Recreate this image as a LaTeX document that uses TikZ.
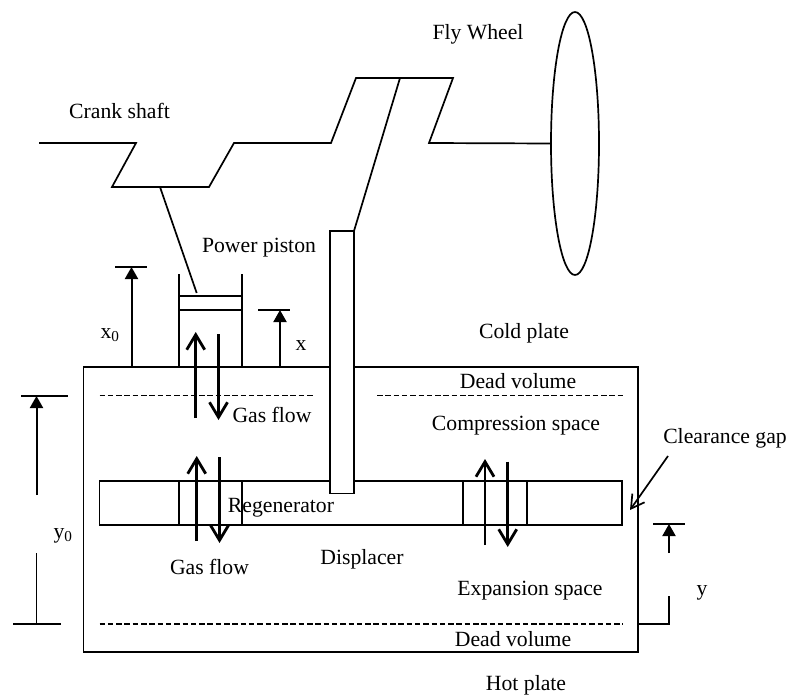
\documentclass[tikz,border=0pt]{standalone}
\usepackage{fontspec}
\setmainfont{Liberation Serif}
\usetikzlibrary{arrows.meta,shapes.geometric,positioning}

\begin{document}
\begin{tikzpicture}[x=1pt,y=-1pt,every node/.style={outer sep=0pt,inner sep=0pt},
    line width=1.7pt,line join=miter,
    part/.style={draw,fill=white,line width=1.7pt},
    lab/.style={anchor=base,font=\fontsize{21.7}{26}\selectfont},
    deadline/.style={line width=1.4pt,dash pattern=on 5.5pt off 2.8pt},
    flow/.style={line width=2.8pt,-{Straight Barb[length=15pt,width=18pt,line width=2.8pt]}},
    dimen/.style={line width=2pt,-{Triangle[length=12pt,width=13pt]}}]
   \useasboundingbox (0,0) rectangle (789,695);

   % engine body
   \node[part,minimum width=554.2pt,minimum height=285.3pt] (body) at (360.6,509.35) {};
   \draw[deadline] (99.5,395.7) -- (313,395.7);
   \draw[deadline] (377,395.7) -- (622.7,395.7);
   \draw[deadline] (99.5,624) -- (622.7,624);

   % displacer
   \node[part,minimum width=522.2pt,minimum height=43.4pt] (plate) at (360.6,503) {};
   \foreach \X in {178.7,242,463.3,526.7}
   {
    \draw (\X,0 |- plate.north) -- (\X,0 |- plate.south);
   }
   \node[part,minimum width=24pt,minimum height=262.5pt] (rod) at (342,362.25) {};

   % power piston
   \coordinate (cyl1) at (178.7,274);
   \coordinate (cyl2) at (242,274);
   \draw (cyl1) -- (cyl1|-body.north);
   \draw (cyl2) -- (cyl2|-body.north);
   \draw (178.7,295.7) -- (242,295.7) (178.7,310) -- (242,310);

   % crank and fly wheel
   \node[draw,ellipse,minimum width=48pt,minimum height=263pt] (wheel) at (575,143.5) {};
   \draw (39,143) -- (136,143) -- (112,187) -- (209,187) -- (234,143) -- (331,143)
    -- (356,78) -- (453,78) -- (429,143) -- (wheel.west);
   \coordinate (pin1) at (160,187);
   \coordinate (pin2) at (400,78);
   \draw (pin1) -- (196.7,293);
   \draw (pin2) -- (rod.north east);

   % gas flow arrows
   \foreach \X/\A/\B in {195.7/418/332,218.5/334/420,196.7/541/456,219.5/457/543,
    485/545/459,507.7/461.7/547}
   {
    \draw[flow] (\X,\A) -- (\X,\B);
   }

   % dimensions
   \foreach \X/\A/\B/\C/\D in {131.5/367/267/115/147,280/367/310/258/290,
    36.5/495/396/21/68,669/553/524/653/685}
   {
    \draw[dimen] (\X,\A) -- (\X,\B);
    \draw (\C,\B) -- (\D,\B);
   }
   \draw (36.5,553) -- (36.5,624);
   \draw (13,624) -- (61,624);
   \draw (669,596) -- (669,624) -- (body.east|-0,624);

   % clearance pointer
   \node[lab] (gap) at (725,443) {Clearance gap};
   \draw[line width=1.7pt,-{Straight Barb[length=13pt,width=15pt,line width=1.7pt]}]
    (668,456) -- (630,510);

   % labels
   \node[lab] (fly) at (478,40) {Fly Wheel};
   \node[lab] (crank) at (119.5,119) {Crank shaft};
   \node[lab] (power) at (259,252) {Power piston};
   \node[lab] (cold) at (524,338) {Cold plate};
   \node[lab] (hot) at (526,690.5) {Hot plate};
   \node[lab] (dead1) at (518,388) {Dead volume};
   \node[lab] (dead2) at (513,646) {Dead volume};
   \node[lab] (comp) at (516,430.7) {Compression space};
   \node[lab] (exp) at (530,595.7) {Expansion space};
   \node[lab] (regen) at (281,512) {Regenerator};
   \node[lab] (displ) at (362,564) {Displacer};
   \node[lab] (gas1) at (272,422.7) {Gas flow};
   \node[lab] (gas2) at (209.5,574) {Gas flow};
   \node[lab] (x0) at (110,338) {x\textsubscript{0}};
   \node[lab] (xlab) at (301,350) {x};
   \node[lab] (y0) at (63,538) {y\textsubscript{0}};
   \node[lab] (ylab) at (702,595) {y};
\end{tikzpicture}
\end{document}
